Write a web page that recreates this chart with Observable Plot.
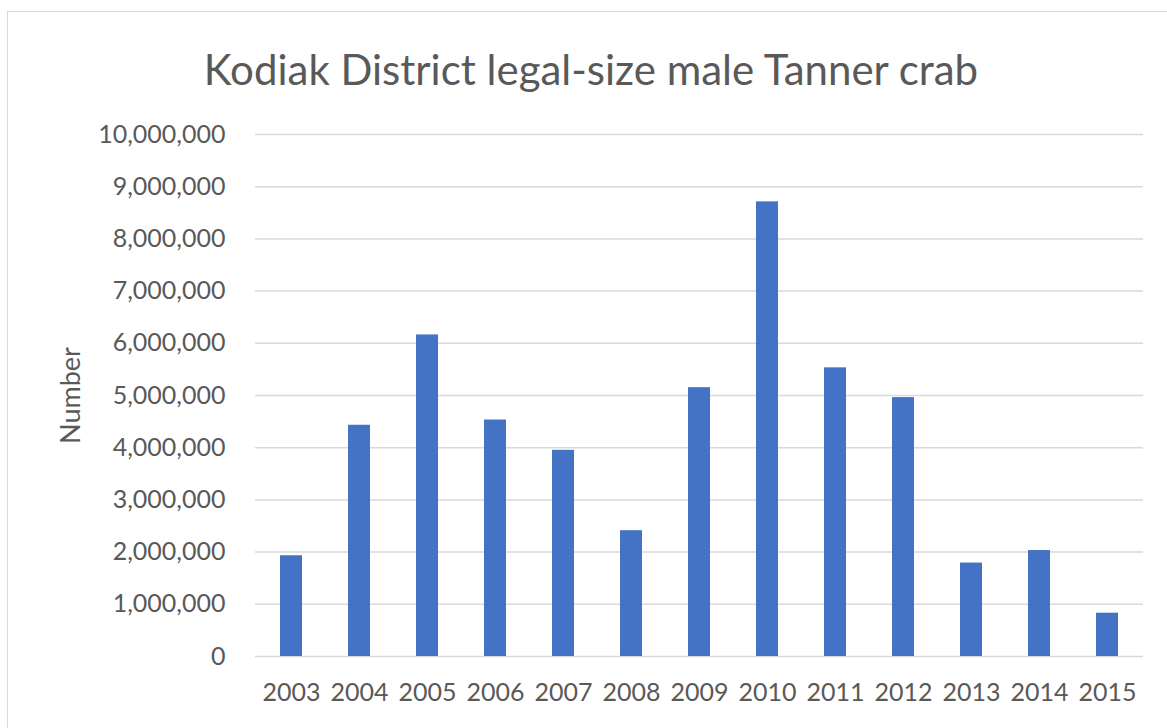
<!DOCTYPE html>
<html>
<head>
<meta charset="utf-8">
<script src="https://cdn.jsdelivr.net/npm/d3@7"></script>
<script src="https://cdn.jsdelivr.net/npm/@observablehq/plot@0.6"></script>
<style>
  html, body { margin: 0; padding: 0; background: #fff; }
  #wrap { position: relative; width: 1167px; height: 728px; overflow: hidden; font-family: Lato, "Open Sans", sans-serif; }
  #frame { position: absolute; left: 7px; top: 11px; width: 1200px; height: 800px; border: 1px solid #d9d9d9; box-sizing: border-box; }
  #title { position: absolute; left: 0; top: 41px; width: 1182px; text-align: center; font-size: 42px; color: #595959; line-height: 56px; white-space: nowrap; }
  #chart { position: absolute; left: 0; top: 100px; }
  #chart g[aria-label="y-axis label"] text { font-size: 27px; }
</style>
</head>
<body>
<div id="wrap">
  <div id="frame"></div>
  <div id="title">Kodiak District legal-size male Tanner crab</div>
  <div id="chart"></div>
</div>
<script>
const years = ["2003","2004","2005","2006","2007","2008","2009","2010","2011","2012","2013","2014","2015"];
const numbers = [1930000, 4430000, 6160000, 4530000, 3950000, 2410000, 5150000, 8710000, 5530000, 4960000, 1790000, 2030000, 830000];
const yTicks = [0,1000000,2000000,3000000,4000000,5000000,6000000,7000000,8000000,9000000,10000000];

const data = years.map((y, i) => ({year: y, value: numbers[i]}));

const chart = Plot.plot({
  width: 1167,
  height: 628,
  marginTop: 34,
  marginBottom: 72,
  marginLeft: 255,
  marginRight: 24,
  style: {fontFamily: "Lato, 'Open Sans', sans-serif", fontSize: "25px", color: "#595959", background: "transparent"},
  x: {domain: years, paddingInner: 0.68, paddingOuter: 0.34, label: null},
  y: {domain: [0, 10000000], label: null},
  marks: [
    Plot.gridY(yTicks, {stroke: "#d9d9d9", strokeOpacity: 1, strokeWidth: 1.5}),
    Plot.barY(data, {x: "year", y: "value", fill: "#4472c4"}),
    Plot.axisY({ticks: yTicks, tickSize: 0, tickPadding: 30, tickFormat: d3.format(","), label: "Number", labelAnchor: "center", labelOffset: 195, labelArrow: "none", fill: "#595959", fontSize: 25}),
    Plot.axisX({tickSize: 0, tickPadding: 27, fill: "#595959", fontSize: 25, label: null})
  ]
});
document.getElementById("chart").appendChild(chart);
</script>
</body>
</html>
